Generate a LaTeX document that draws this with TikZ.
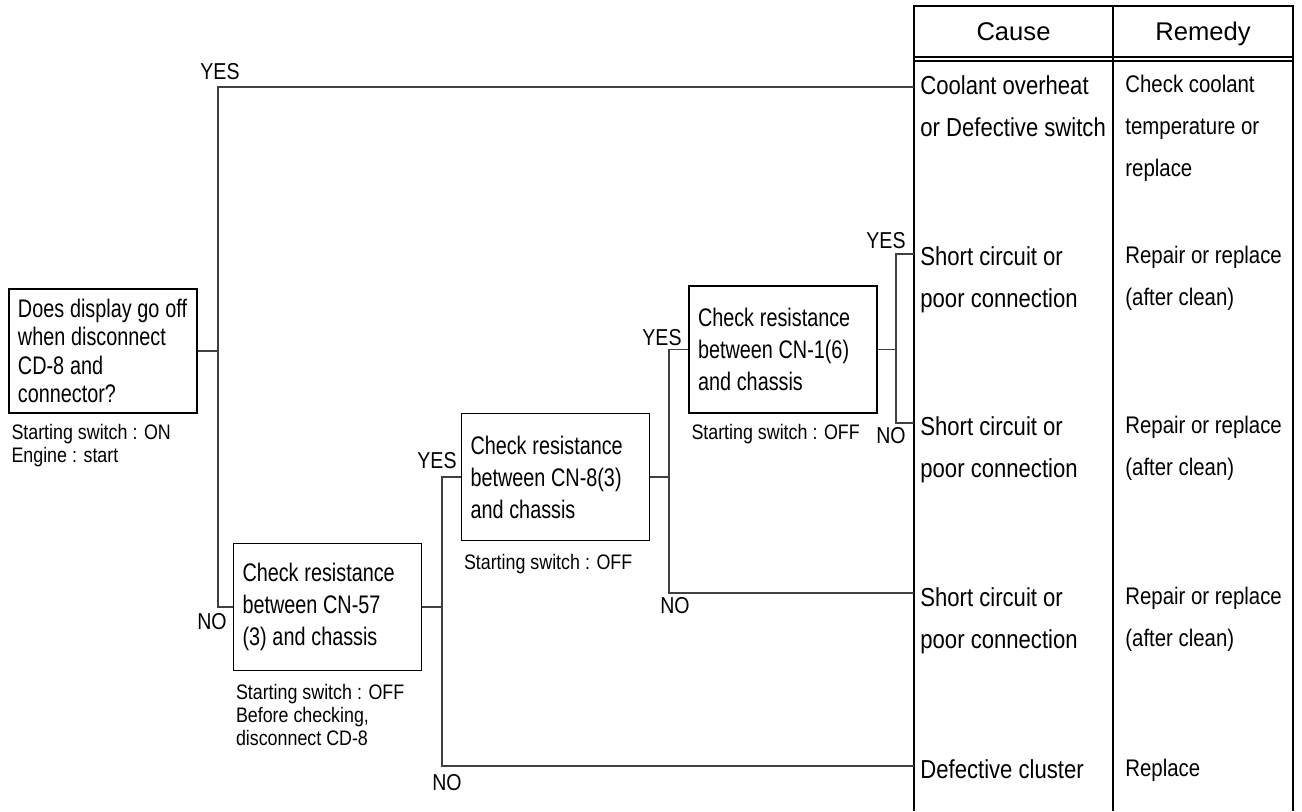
\documentclass[tikz,border=0pt]{standalone}
\usepackage{fontspec}
\setmainfont{Liberation Sans}
\newfontfamily\narrowsf{Liberation Sans}[FakeStretch=0.85]
\newfontfamily\condsf{Liberation Sans}[FakeStretch=0.78]
\usetikzlibrary{positioning}
\tikzset{
  chk/.style={draw,line width=0.9pt,minimum width=94pt,minimum height=63.5pt,inner xsep=4.5pt,
    text width=85pt,align=left,font=\condsf\fontsize{12.7}{16}\selectfont,
    execute at begin node={\spaceskip=2.9pt plus 1pt\relax}},
  note/.style={inner sep=0pt,align=left,font=\narrowsf\fontsize{10.5}{11.5}\selectfont},
  yn/.style={inner sep=0pt,font=\narrowsf\fontsize{11.5}{12}\selectfont},
  wire/.style={line width=0.7pt,black!75},
  rule/.style={line width=0.9pt},
  hd/.style={anchor=base,inner sep=0pt,font=\fontsize{12.8}{14}\selectfont},
  cause/.style={anchor=north west,inner sep=0pt,align=left,font=\narrowsf\fontsize{13}{21}\selectfont},
  remedy/.style={anchor=north west,inner sep=0pt,align=left,font=\narrowsf\fontsize{12}{21}\selectfont}
}
\begin{document}
\begin{tikzpicture}[x=0.5pt,y=-0.5pt]
  \useasboundingbox (0,0) rectangle (1302,811);

  \draw[rule] (914,811) -- (914,6) -- (1293,6) -- (1293,811);
  \draw[rule] (1113,6) -- (1113,811);
  \draw[rule] (914,57) -- (1293,57);
  \draw[rule] (914,61) -- (1293,61);
  \node[hd] (causehd) at (1013.5,40) {Cause};
  \node[hd] (remedyhd) at (1203,40) {Remedy};

  \node[cause] (c1) at (920,75) {Coolant overheat\\or Defective switch};
  \node[remedy] (r1) at (1125,75) {Check coolant\\temperature or\\replace};
  \node[cause] (c2) at (920,246) {Short circuit or\\poor connection};
  \node[remedy] (r2) at (1125,246) {Repair or replace\\(after clean)};
  \node[cause] (c3) at (920,416) {Short circuit or\\poor connection};
  \node[remedy] (r3) at (1125,416) {Repair or replace\\(after clean)};
  \node[cause] (c4) at (920,587) {Short circuit or\\poor connection};
  \node[remedy] (r4) at (1125,587) {Repair or replace\\(after clean)};
  \node[cause] (c5) at (920,759) {Defective cluster};
  \node[remedy] (r5) at (1125,759) {Replace};

  \node[chk,minimum height=62pt,font=\condsf\fontsize{12.7}{14.25}\selectfont] (disp) at (103,351)
    {Does display go off\\when disconnect\\CD-8 and\\connector?};
  \node[chk] (cn57) at (327.5,607) {Check resistance\\between CN-57\\(3) and chassis};
  \node[chk] (cn8) at (555.5,477) {Check resistance\\between CN-8(3)\\and chassis};
  \node[chk] (cn1) at (783,349.5) {Check resistance\\between CN-1(6)\\and chassis};

  \node[note,below right=5pt and 1.5pt of disp.south west] (dispnote) {Starting switch : ON\\Engine : start};
  \node[note,below right=6pt and 1.5pt of cn57.south west] (cn57note) {Starting switch : OFF\\Before checking,\\disconnect CD-8};
  \node[note,below right=6pt and 1.5pt of cn8.south west] (cn8note) {Starting switch : OFF};
  \node[note,below right=5pt and 1.5pt of cn1.south west] (cn1note) {Starting switch : OFF};

  \coordinate (j1) at (218,351);
  \coordinate (j2) at (442,607);
  \coordinate (j3) at (669,477);
  \coordinate (j4) at (896,349.5);
  \coordinate (t1) at (914,87);
  \coordinate (t2) at (914,254);
  \coordinate (t3) at (914,423);
  \coordinate (t4) at (914,593);
  \coordinate (t5) at (914,766);

  \draw[wire] (disp.east) -- (j1) |- (t1);
  \draw[wire] (j1) |- (cn57.west);
  \draw[wire] (cn57.east) -- (j2) |- (cn8.west);
  \draw[wire] (j2) |- (t5);
  \draw[wire] (cn8.east) -- (j3) |- (cn1.west);
  \draw[wire] (j3) |- (t4);
  \draw[wire] (cn1.east) -- (j4) |- (t2);
  \draw[wire] (j4) |- (t3);

  \node[yn] (yes1) at (220,72) {YES};
  \node[yn] (no1) at (212,622) {NO};
  \node[yn] (yes2) at (437,461) {YES};
  \node[yn] (no2) at (447,783) {NO};
  \node[yn] (yes3) at (662,338) {YES};
  \node[yn] (no3) at (675,606) {NO};
  \node[yn] (yes4) at (886,241) {YES};
  \node[yn] (no4) at (891,436) {NO};
\end{tikzpicture}
\end{document}
